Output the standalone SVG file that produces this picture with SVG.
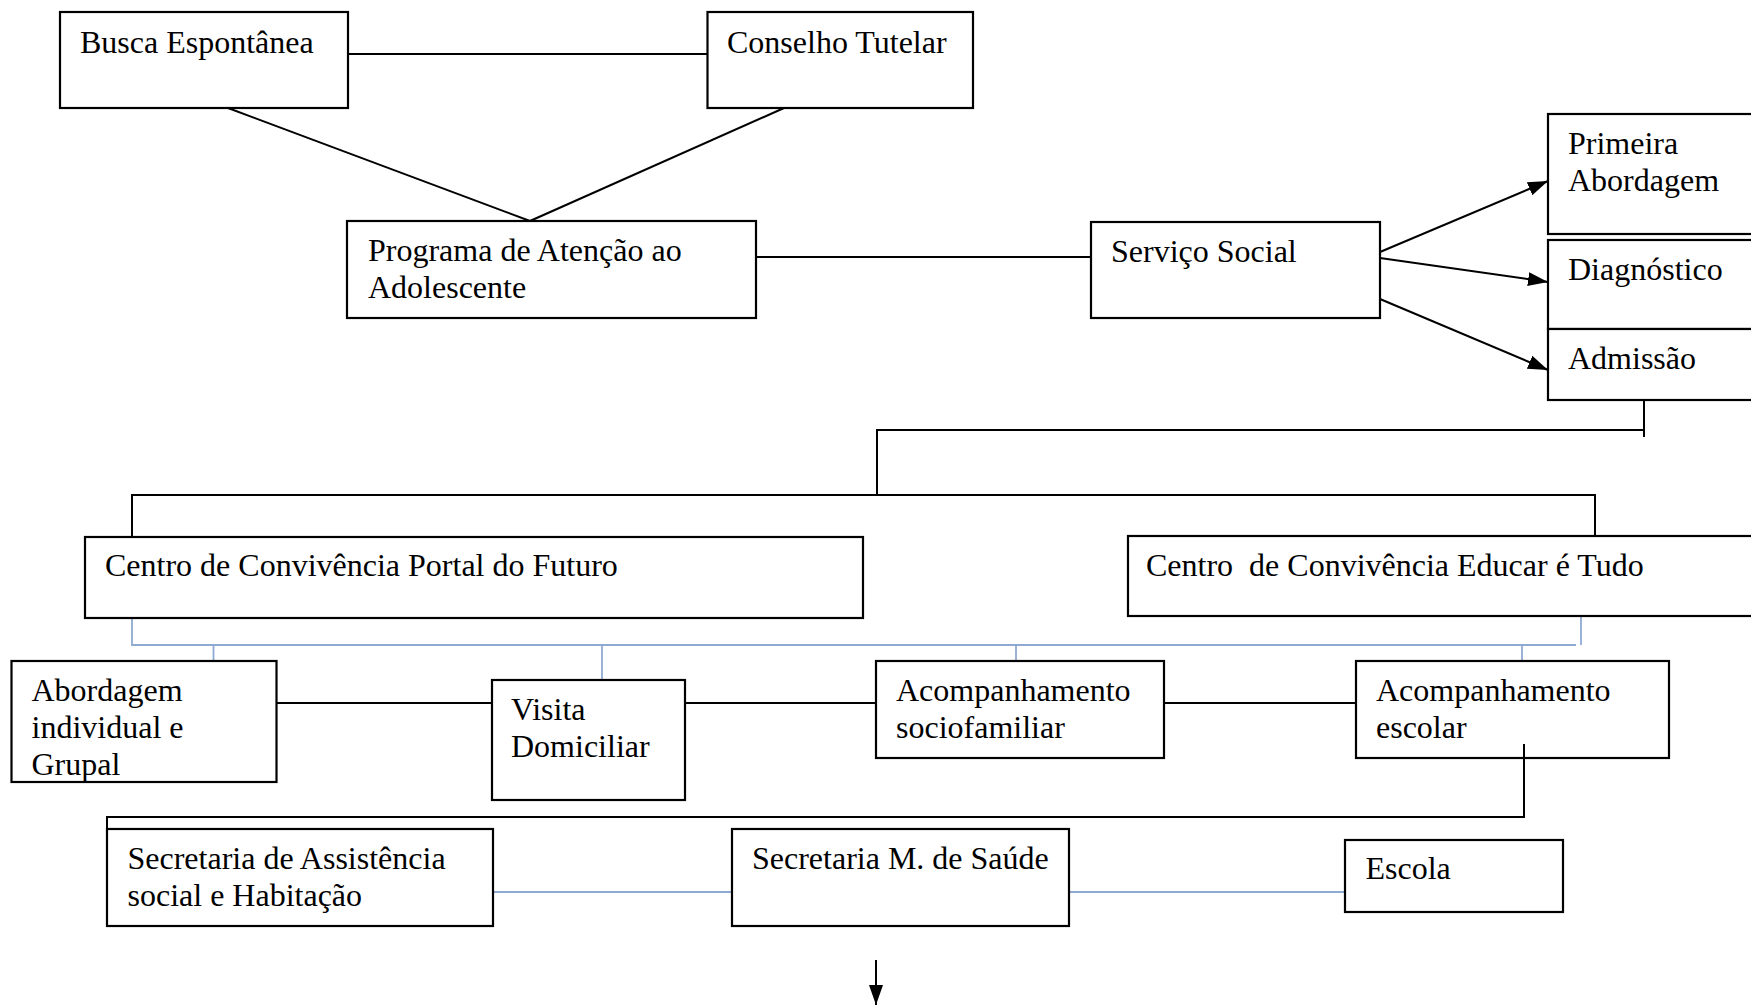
<svg xmlns="http://www.w3.org/2000/svg" width="1751" height="1006" viewBox="0 0 1751 1006">
<style>
.box{fill:#fff;stroke:#000;stroke-width:2.2}
.t{font-family:"Liberation Serif","Times New Roman",serif;font-size:32px;fill:#000;white-space:pre}
.k{stroke:#000;stroke-width:2;fill:none}
.b{stroke:#8eaad2;stroke-width:1.8;fill:none}
</style>
<defs>
<marker id="ah2" viewBox="0 0 20 14" refX="20" refY="7" markerWidth="20" markerHeight="14" orient="auto" markerUnits="userSpaceOnUse">
<path d="M0,0 L20,7 L0,14 z" fill="#000"/>
</marker>
</defs>
<rect width="1751" height="1006" fill="#fff"/>
<g id="connectors">
<line class="k" x1="348" y1="54" x2="707" y2="54"/>
<line class="k" x1="228" y1="108" x2="530" y2="221"/>
<line class="k" x1="784" y1="108" x2="530" y2="221"/>
<line class="k" x1="756" y1="257" x2="1091" y2="257"/>
<line class="k" x1="1380" y1="252" x2="1548" y2="181" marker-end="url(#ah2)"/>
<line class="k" x1="1380" y1="258" x2="1548" y2="282" marker-end="url(#ah2)"/>
<line class="k" x1="1380" y1="299" x2="1548" y2="370" marker-end="url(#ah2)"/>
<polyline class="k" points="1644,400 1644,437"/>
<polyline class="k" points="1644,430 877,430 877,495"/>
<polyline class="k" points="132,537 132,495 1595,495 1595,537"/>
<polyline class="b" points="132,618 132,645 1576,645"/>
<line class="b" x1="1581" y1="616" x2="1581" y2="645"/>
<line class="b" x1="213.5" y1="645" x2="213.5" y2="661"/>
<line class="b" x1="602" y1="645" x2="602" y2="680"/>
<line class="b" x1="1016" y1="645" x2="1016" y2="661"/>
<line class="b" x1="1522" y1="645" x2="1522" y2="661"/>
<line class="k" x1="277" y1="703" x2="492" y2="703"/>
<line class="k" x1="685" y1="703" x2="876" y2="703"/>
<line class="k" x1="1164" y1="703" x2="1356" y2="703"/>
<polyline class="k" points="1524,744 1524,817 107,817 107,829"/>
<line class="b" x1="493" y1="892" x2="732" y2="892"/>
<line class="b" x1="1069" y1="892" x2="1345" y2="892"/>
<line class="k" x1="876" y1="960" x2="876" y2="1005" marker-end="url(#ah2)"/>
</g>
<g id="busca"><rect class="box" x="60" y="12" width="288" height="96"/><text class="t" x="80" y="53">Busca Espontânea</text></g>
<g id="conselho"><rect class="box" x="707.5" y="12" width="265.5" height="96"/><text class="t" x="727" y="53">Conselho Tutelar</text></g>
<g id="programa"><rect class="box" x="347" y="221" width="409" height="97"/><text class="t" x="368" y="261">Programa de Atenção ao</text><text class="t" x="368" y="298">Adolescente</text></g>
<g id="servico"><rect class="box" x="1091" y="222" width="289" height="96"/><text class="t" x="1111" y="262">Serviço Social</text></g>
<g id="primeira"><rect class="box" x="1548" y="114" width="210" height="120"/><text class="t" x="1568" y="154">Primeira</text><text class="t" x="1568" y="191">Abordagem</text></g>
<g id="diagnostico"><rect class="box" x="1548" y="240" width="210" height="89"/><text class="t" x="1568" y="280">Diagnóstico</text></g>
<g id="admissao"><rect class="box" x="1548" y="329" width="210" height="71"/><text class="t" x="1568" y="369">Admissão</text></g>
<g id="portal"><rect class="box" x="85" y="537" width="778" height="81"/><text class="t" x="105" y="576">Centro de Convivência Portal do Futuro</text></g>
<g id="educar"><rect class="box" x="1128" y="536" width="630" height="80"/><text class="t" x="1146" y="576">Centro  de Convivência Educar é Tudo</text></g>
<g id="abordagem"><rect class="box" x="11.5" y="661" width="265" height="121"/><text class="t" x="31.5" y="701">Abordagem</text><text class="t" x="31.5" y="738">individual e</text><text class="t" x="31.5" y="775">Grupal</text></g>
<g id="visita"><rect class="box" x="492" y="680" width="193" height="120"/><text class="t" x="511" y="720">Visita</text><text class="t" x="511" y="757">Domiciliar</text></g>
<g id="sociofamiliar"><rect class="box" x="876" y="661" width="288" height="97"/><text class="t" x="896" y="701">Acompanhamento</text><text class="t" x="896" y="738">sociofamiliar</text></g>
<g id="escolar"><rect class="box" x="1356" y="661" width="313" height="97"/><text class="t" x="1376" y="701">Acompanhamento</text><text class="t" x="1376" y="738">escolar</text></g>
<line class="k" x1="1524" y1="744" x2="1524" y2="758"/>
<g id="assistencia"><rect class="box" x="107" y="829" width="386" height="97"/><text class="t" x="127.5" y="869">Secretaria de Assistência</text><text class="t" x="127.5" y="906">social e Habitação</text></g>
<g id="saude"><rect class="box" x="732" y="829" width="337" height="97"/><text class="t" x="752" y="869">Secretaria M. de Saúde</text></g>
<g id="escola"><rect class="box" x="1345" y="840" width="218" height="72"/><text class="t" x="1365.5" y="879">Escola</text></g>
</svg>
